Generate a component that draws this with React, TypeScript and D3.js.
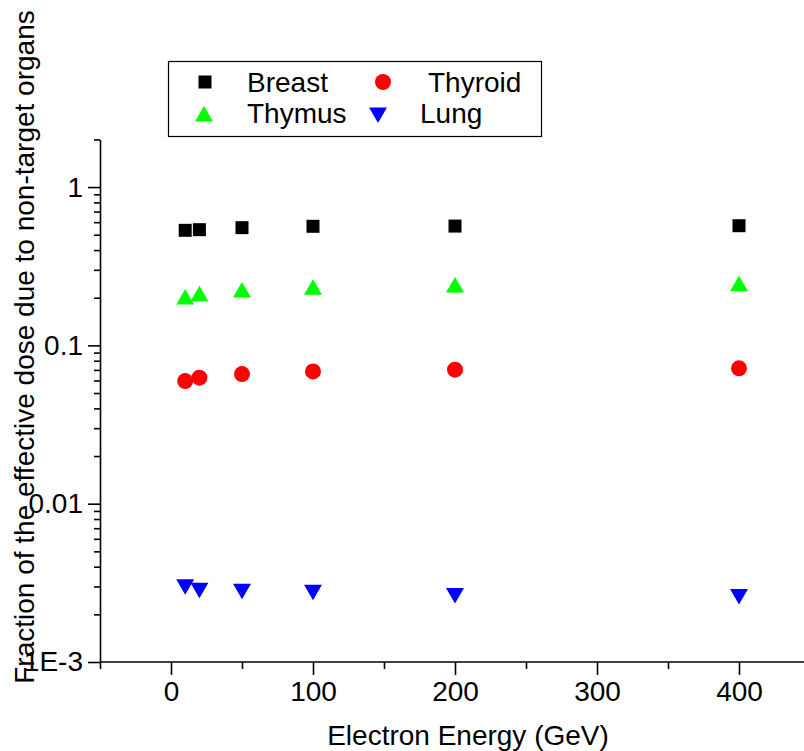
import React, { useEffect, useRef } from 'react'
import { axisBottom, axisLeft, scaleLinear, scaleLog, select } from 'd3'

const energies = [10, 20, 50, 100, 200, 400]
const breast = [0.533, 0.538, 0.554, 0.565, 0.567, 0.57]
const thymus = [0.202, 0.212, 0.224, 0.233, 0.241, 0.245]
const thyroid = [0.0595, 0.0625, 0.0659, 0.0685, 0.0702, 0.0716]
const lung = [0.00299, 0.00284, 0.0028, 0.00276, 0.00263, 0.00259]

const xMajor = [0, 100, 200, 300, 400]
const xMinor = [-50, 50, 150, 250, 350, 450]
const yMajor = [1, 0.1, 0.01, 0.001]
const yMajorLabels = ['1', '0.1', '0.01', '1E-3']

const FONT = '"Liberation Sans", Arial, sans-serif'
const FS = 28

const symbolPath = (shape: string) => {
  if (shape === 'square') return 'M-6.5,-6.5H6.5V6.5H-6.5Z'
  if (shape === 'up') return 'M0,-8L9,7.5L-9,7.5Z'
  if (shape === 'down') return 'M0,8L9,-7.5L-9,-7.5Z'
  return 'M-8,0A8,8 0 1,0 8,0A8,8 0 1,0 -8,0Z'
}

const series = [
  { name: 'Breast', values: breast, shape: 'square', color: '#000000' },
  { name: 'Thymus', values: thymus, shape: 'up', color: '#00ff00' },
  { name: 'Thyroid', values: thyroid, shape: 'circle', color: '#ff0000' },
  { name: 'Lung', values: lung, shape: 'down', color: '#0000ff' },
]

const App = () => {
  const ref = useRef<SVGSVGElement>(null)

  useEffect(() => {
    const svg = select(ref.current)
    svg.selectAll('*').remove()

    const x = scaleLinear().domain([-50, 450]).range([100, 810])
    const y = scaleLog().domain([0.001, 2]).range([662, 139.4])

    // x axis
    const xa = svg.append('g').attr('transform', `translate(0, ${y(0.001)})`)
    xa.call(axisBottom(x).tickValues(xMajor).tickSize(13).tickSizeOuter(0).tickFormat((d) => `${d}`))
    xa.append('g')
      .call(axisBottom(x).tickValues(xMinor).tickSize(7).tickSizeOuter(0).tickFormat(() => ''))
      .select('.domain').remove()
    xa.select('.domain').attr('d', `M${x(-50)},0H804`)

    // y axis, log minor ticks 2..9 per decade
    const minors: number[] = []
    ;[0.001, 0.01, 0.1, 1].forEach((dec) => {
      for (let k = 2; k <= 9; k++) if (dec * k <= 2) minors.push(dec * k)
    })
    const ya = svg.append('g').attr('transform', `translate(${x(-50)}, 0)`)
    ya.call(
      axisLeft(y)
        .tickValues(yMajor)
        .tickSize(12)
        .tickSizeOuter(0)
        .tickFormat((d, i) => yMajorLabels[i])
    )
    ya.append('g')
      .call(axisLeft(y).tickValues(minors).tickSize(6).tickSizeOuter(0).tickFormat(() => ''))
      .select('.domain').remove()

    svg.selectAll('.domain').attr('stroke', '#000').attr('stroke-width', 1.6)
    svg.selectAll('.tick line').attr('stroke', '#000').attr('stroke-width', 1.6)
    svg.selectAll('.tick text')
      .attr('font-family', FONT)
      .attr('font-size', FS)
      .attr('fill', '#000')
    xa.selectAll('.tick text').attr('dy', 0).attr('y', 39)
    ya.selectAll('.tick text').attr('x', -17)

    // axis titles
    svg.append('text')
      .attr('x', 468)
      .attr('y', 745)
      .attr('text-anchor', 'middle')
      .attr('font-family', FONT)
      .attr('font-size', FS)
      .text('Electron Energy (GeV)')

    svg.append('text')
      .attr('transform', `translate(34, 347) rotate(-90)`)
      .attr('text-anchor', 'middle')
      .attr('font-family', FONT)
      .attr('font-size', FS)
      .text('Fraction of the effective dose due to non-target organs')

    // points
    series.forEach((s) => {
      svg.append('g')
        .selectAll('path')
        .data(s.values)
        .enter()
        .append('path')
        .attr('transform', (d, i) => `translate(${x(energies[i])}, ${y(d)})`)
        .attr('d', symbolPath(s.shape))
        .attr('fill', s.color)
    })

    // legend
    const lg = svg.append('g')
    lg.append('rect')
      .attr('x', 168.5)
      .attr('y', 61.5)
      .attr('width', 373)
      .attr('height', 75)
      .attr('fill', 'none')
      .attr('stroke', '#000')
      .attr('stroke-width', 1.2)
    const legendPos = [
      { s: series[0], sx: 205, sy: 82, tx: 247, ty: 92 },
      { s: series[2], sx: 383, sy: 82, tx: 428, ty: 92 },
      { s: series[1], sx: 204, sy: 114, tx: 247, ty: 123 },
      { s: series[3], sx: 378, sy: 115, tx: 420, ty: 123 },
    ]
    legendPos.forEach((p) => {
      lg.append('path')
        .attr('transform', `translate(${p.sx}, ${p.sy})`)
        .attr('d', symbolPath(p.s.shape))
        .attr('fill', p.s.color)
      lg.append('text')
        .attr('x', p.tx)
        .attr('y', p.ty)
        .attr('font-family', FONT)
        .attr('font-size', FS)
        .text(p.s.name)
    })
  }, [])

  return (
    <svg
      ref={ref}
      width={804}
      height={751}
      style={{ position: 'absolute', left: 0, top: 0, background: '#fff' }}
    ></svg>
  )
}

export default App
